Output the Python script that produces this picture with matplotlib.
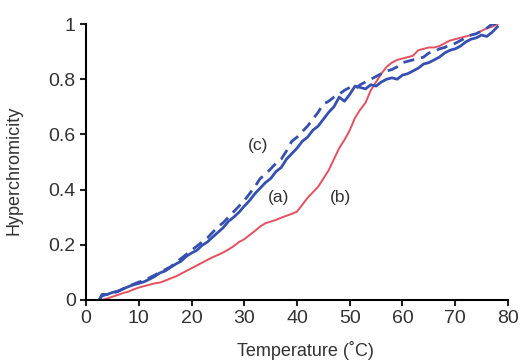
import matplotlib.pyplot as plt
import numpy as np

plt.rcParams['font.family'] = ['Liberation Sans', 'DejaVu Sans']

# Temperature (deg C) and hyperchromicity
temp = [2.5] + list(range(3, 79))

# (a) solid blue
curve_a = [0.0,
           0.02, 0.02, 0.027, 0.032, 0.04, 0.048, 0.055, 0.06, 0.066, 0.075,
           0.085, 0.098, 0.105, 0.118, 0.13, 0.14, 0.158, 0.17, 0.18, 0.198,
           0.21, 0.228, 0.245, 0.262, 0.285, 0.30, 0.318, 0.34, 0.36, 0.385,
           0.405, 0.425, 0.44, 0.465, 0.48, 0.51, 0.53, 0.55, 0.575, 0.59,
           0.615, 0.63, 0.655, 0.68, 0.70, 0.735, 0.72, 0.745, 0.775, 0.77,
           0.765, 0.78, 0.775, 0.79, 0.80, 0.805, 0.80, 0.815, 0.82, 0.83,
           0.84, 0.855, 0.86, 0.87, 0.88, 0.895, 0.905, 0.91, 0.92, 0.935,
           0.945, 0.95, 0.96, 0.955, 0.97, 0.99]

# (b) red
curve_b = [0.0,
           0.0, 0.005, 0.012, 0.018, 0.025, 0.03, 0.038, 0.045, 0.05, 0.055,
           0.06, 0.063, 0.07, 0.078, 0.085, 0.095, 0.105, 0.115, 0.125, 0.135,
           0.145, 0.155, 0.163, 0.172, 0.183, 0.195, 0.21, 0.22, 0.235, 0.25,
           0.266, 0.278, 0.284, 0.29, 0.298, 0.305, 0.312, 0.32, 0.345, 0.37,
           0.39, 0.41, 0.44, 0.47, 0.51, 0.55, 0.58, 0.615, 0.66, 0.69,
           0.715, 0.76, 0.79, 0.82, 0.845, 0.86, 0.87, 0.875, 0.88, 0.885,
           0.905, 0.91, 0.915, 0.915, 0.92, 0.93, 0.94, 0.945, 0.95, 0.955,
           0.96, 0.965, 0.975, 0.985, 0.99, 1.0]

# (c) dashed blue
curve_c = [0.0,
           0.015, 0.02, 0.025, 0.03, 0.04, 0.05, 0.057, 0.065, 0.07, 0.08,
           0.09, 0.10, 0.11, 0.12, 0.135, 0.15, 0.165, 0.18, 0.195, 0.21,
           0.225, 0.245, 0.265, 0.28, 0.30, 0.32, 0.34, 0.36, 0.385, 0.41,
           0.44, 0.455, 0.475, 0.495, 0.51, 0.54, 0.575, 0.59, 0.61, 0.63,
           0.655, 0.68, 0.71, 0.72, 0.735, 0.745, 0.76, 0.77, 0.765, 0.78,
           0.79, 0.80, 0.81, 0.82, 0.83, 0.835, 0.845, 0.86, 0.865, 0.87,
           0.875, 0.88, 0.895, 0.90, 0.91, 0.915, 0.925, 0.93, 0.94, 0.95,
           0.96, 0.965, 0.975, 0.985, 1.0, 1.0]

blue = '#3550b0'
red = '#e4505e'
text_col = '#333333'

fig = plt.figure(figsize=(5.22, 3.64), dpi=100)
ax = fig.add_axes([0.165, 0.176, 0.808, 0.758])

ax.plot(temp[1:], curve_b[1:], color=red, lw=1.4)
ax.plot(temp, curve_a, color=blue, lw=2.0)
ax.plot(temp, curve_c, color=blue, lw=2.0, dashes=(4, 2.5))

ax.text(32.6, 0.56, '(c)', fontsize=12.5, ha='center', va='center', color=text_col)
ax.text(36.5, 0.37, '(a)', fontsize=12.5, ha='center', va='center', color=text_col)
ax.text(48.3, 0.37, '(b)', fontsize=12.5, ha='center', va='center', color=text_col)

ax.set_xlim(0, 80)
ax.set_ylim(0, 1)
ax.set_xticks(np.arange(0, 81, 10))
ax.set_yticks([0, 0.2, 0.4, 0.6, 0.8, 1])
ax.set_yticklabels(['0', '0.2', '0.4', '0.6', '0.8', '1'])
ax.spines['top'].set_visible(False)
ax.spines['right'].set_visible(False)
ax.spines['left'].set_linewidth(1.5)
ax.spines['bottom'].set_linewidth(1.5)
ax.tick_params(labelsize=14, width=1.5, length=4, colors='#222222',
               labelcolor=text_col)

ax.set_xlabel('Temperature (˚C)', fontsize=13, color=text_col)
ax.set_ylabel('Hyperchromicity', fontsize=13, color=text_col)
ax.xaxis.set_label_coords(0.52, -0.15)
ax.yaxis.set_label_coords(-0.15, 0.47)

fig.savefig('out.png', dpi=100)
